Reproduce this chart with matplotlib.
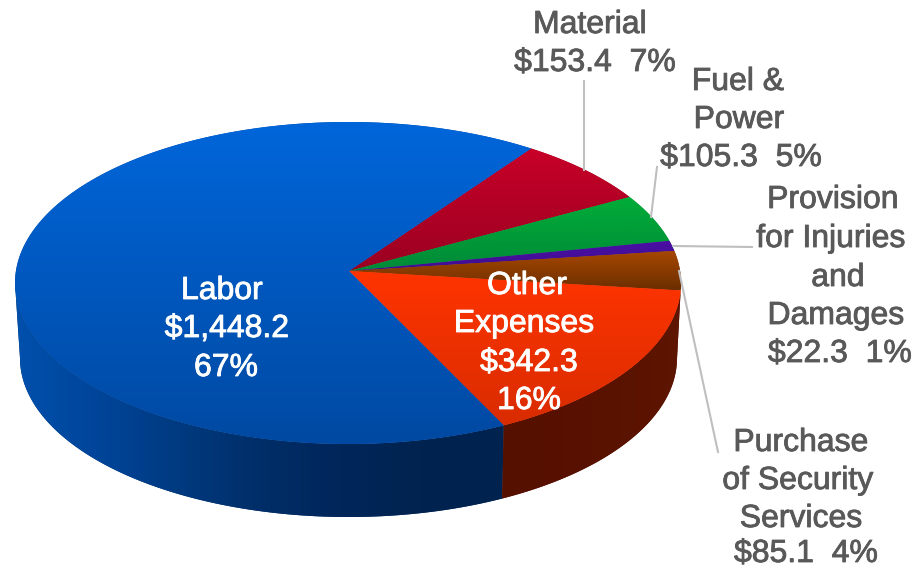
import numpy as np
import matplotlib
matplotlib.use('Agg')
import matplotlib.pyplot as plt
import matplotlib.patheffects as pe
from matplotlib.colors import LinearSegmentedColormap
from matplotlib.patches import Polygon

plt.rcParams['font.family'] = ['Liberation Sans', 'DejaVu Sans']

# clockwise from the top right edge of Labor
categories = ['Material', 'Fuel & Power', 'Provision for Injuries and Damages',
              'Purchase of Security Services', 'Other Expenses', 'Labor']
values = [153.4, 105.3, 22.3, 85.1, 342.3, 1448.2]
percents = [7, 5, 1, 4, 16, 67]

# light (top of slice) and dark (bottom of slice) colours
top_light = ['#C80028', '#00AD38', '#4B0FA5', '#A84800', '#FF3400', '#0066DA']
top_dark = ['#9A0022', '#008A38', '#3F0E90', '#6B2E00', '#D92C00', '#0049A2']

START_ANGLE = 54.2
CX, CY, RX, RY = 348.0, 283.0, 333.0, 161.0      # top ellipse
BX, BY, BRX, BRY = 348.5, 358.0, 328.5, 159.0    # bottom ellipse
APEX = (349.0, 271.0)
TILT = 0.0373   # apex sits above the ellipse centre, so the angles shift a bit


def perspective(t):
    # moebius map of the circle, sends the pie centre to the apex
    z = np.exp(1j * np.radians(t))
    a = 1j * TILT
    return np.degrees(np.angle((z + a) / (1 + np.conj(a) * z)))


def top_edge(t):
    t = np.radians(t)
    return np.column_stack([CX + RX * np.cos(t), CY - RY * np.sin(t)])


def bottom_edge(t):
    t = np.radians(t)
    return np.column_stack([BX + BRX * np.cos(t), BY - BRY * np.sin(t)])


def gradient_fill(ax, pts, colors, vertical=True, zorder=2):
    # antialiased polygon under a clipped gradient
    cmap = LinearSegmentedColormap.from_list('g', colors)
    base = Polygon(pts, closed=True, facecolor=colors[len(colors) // 2], edgecolor='none', zorder=zorder)
    ax.add_patch(base)
    x0, x1 = pts[:, 0].min(), pts[:, 0].max()
    y0, y1 = pts[:, 1].min(), pts[:, 1].max()
    grad = np.linspace(0, 1, 256)
    grad = grad[:, None] if vertical else grad[None, :]
    im = ax.imshow(grad, cmap=cmap, extent=(x0, x1, y1, y0), aspect='auto',
                   interpolation='bilinear', zorder=zorder + 0.1)
    im.set_clip_path(Polygon(pts, closed=True, transform=ax.transData))


fig = plt.figure(figsize=(9.17, 5.70), dpi=100)
ax = fig.add_axes([0, 0, 1, 1])

angles = np.array(values) / sum(values) * 360
ends = START_ANGLE - np.cumsum(angles)
starts = ends + angles

# side wall, only the front part shows
labor_start = perspective(ends[4]) % 360
other_end = perspective(ends[3]) % 360
labor_t = np.linspace(180, labor_start, 200)
other_t = np.linspace(labor_start, other_end, 100)
wall_blue = ['#0050AC', '#00459A', '#003A80', '#002E68', '#00265A', '#00234F', '#00224E']
wall_red = ['#551000', '#581100', '#5A1300', '#5E1500']

pts = np.vstack([top_edge(labor_t), bottom_edge(labor_t[::-1])])
gradient_fill(ax, pts, wall_blue, vertical=False, zorder=2)
pts = np.vstack([top_edge(other_t), bottom_edge(other_t[::-1])])
gradient_fill(ax, pts, wall_red, vertical=False, zorder=2)

# top face
for i in range(len(values)):
    t = perspective(np.linspace(starts[i], ends[i], 300))
    t = np.degrees(np.unwrap(np.radians(t)))
    pts = np.vstack([[APEX], top_edge(t)])
    gradient_fill(ax, pts, [top_light[i], top_dark[i]], zorder=3)

# leader lines
line_col = '#BFBFBF'
ax.plot([584, 584], [81, 170], color=line_col, lw=1.5, zorder=5)
ax.plot([657, 651], [167, 217], color=line_col, lw=1.5, zorder=5)
ax.plot([673, 752], [246, 247], color=line_col, lw=1.5, zorder=5)
ax.plot([679, 718], [271, 452], color=line_col, lw=1.5, zorder=5)

# labels, one line at a time since the lines are not quite centred on each other
grey = '#595959'
def money(v):
    return '${:,.1f}'.format(v)

label_lines = [
    ('Material', 590, 25, grey),
    ('%s  %d%%' % (money(values[0]), percents[0]), 595, 63, grey),
    ('Fuel &', 738, 82, grey),
    ('Power', 739, 120, grey),
    ('%s  %d%%' % (money(values[1]), percents[1]), 741, 158, grey),
    ('Provision', 833, 200, grey),
    ('for Injuries', 831, 239, grey),
    ('and', 838, 278, grey),
    ('Damages', 836, 316, grey),
    ('%s  %d%%' % (money(values[2]), percents[2]), 840, 354, grey),
    ('Purchase', 801, 443, grey),
    ('of Security', 798, 481, grey),
    ('Services', 801, 519, grey),
    ('%s  %d%%' % (money(values[3]), percents[3]), 806, 554, grey),
    ('Other', 527, 286, 'white'),
    ('Expenses', 524, 324, 'white'),
    (money(values[4]), 529, 363, 'white'),
    ('%d%%' % percents[4], 529, 401, 'white'),
    ('Labor', 222, 291, 'white'),
    (money(values[5]), 227, 329, 'white'),
    ('%d%%' % percents[5], 226, 368, 'white'),
]
for txt, x, y, col in label_lines:
    t = ax.text(x, y, txt, color=col, fontsize=23, ha='center', va='center', zorder=6)
    t.set_path_effects([pe.withStroke(linewidth=0.6, foreground=col)])

ax.set_xlim(0, 917)
ax.set_ylim(570, 0)
ax.axis('off')

fig.savefig('out.png', dpi=100, facecolor='white')
